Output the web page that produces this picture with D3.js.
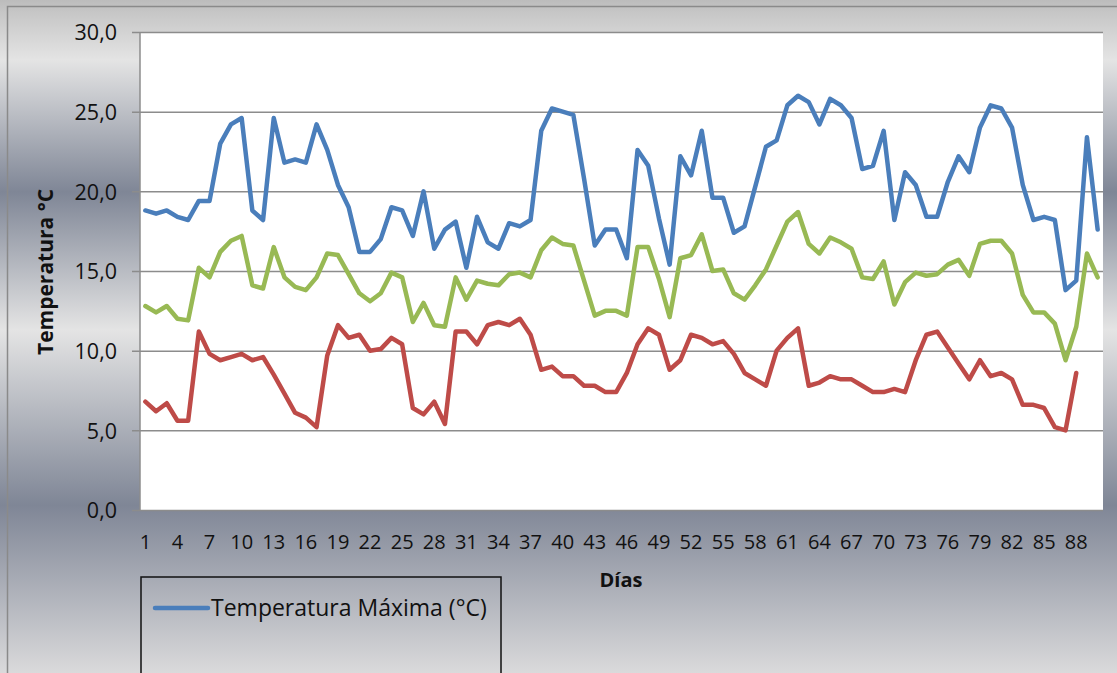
<!DOCTYPE html>
<html>
<head>
<meta charset="utf-8">
<script src="https://cdn.jsdelivr.net/npm/d3@7"></script>
<style>
  html, body { margin: 0; padding: 0; background: #c4c4c4; }
  svg { display: block; }
  text { font-family: "Open Sans", Lato, sans-serif; fill: #111; }
</style>
</head>
<body>
<svg id="chart" width="1117" height="673"></svg>
<script>
// Daily temperatures (°C), one value per day
const days = d3.range(1, 91);
const tempMax = [18.8, 18.6, 18.8, 18.4, 18.2, 19.4, 19.4, 23.0, 24.2, 24.6,
  18.8, 18.2, 24.6, 21.8, 22.0, 21.8, 24.2, 22.6, 20.4, 19.0,
  16.2, 16.2, 17.0, 19.0, 18.8, 17.2, 20.0, 16.4, 17.6, 18.1,
  15.2, 18.4, 16.8, 16.4, 18.0, 17.8, 18.2, 23.8, 25.2, 25.0,
  24.8, 20.8, 16.6, 17.6, 17.6, 15.8, 22.6, 21.6, 18.3, 15.4,
  22.2, 21.0, 23.8, 19.6, 19.6, 17.4, 17.8, 20.3, 22.8, 23.2,
  25.4, 26.0, 25.6, 24.2, 25.8, 25.4, 24.6, 21.4, 21.6, 23.8,
  18.2, 21.2, 20.4, 18.4, 18.4, 20.6, 22.2, 21.2, 24.0, 25.4,
  25.2, 24.0, 20.4, 18.2, 18.4, 18.2, 13.8, 14.4, 23.4, 17.6];
const tempMed = [12.8, 12.4, 12.8, 12.0, 11.9, 15.2, 14.6, 16.2, 16.9, 17.2,
  14.1, 13.9, 16.5, 14.6, 14.0, 13.8, 14.6, 16.1, 16.0, 14.8,
  13.6, 13.1, 13.6, 14.9, 14.6, 11.8, 13.0, 11.6, 11.5, 14.6,
  13.2, 14.4, 14.2, 14.1, 14.8, 14.9, 14.6, 16.3, 17.1, 16.7,
  16.6, 14.4, 12.2, 12.5, 12.5, 12.2, 16.5, 16.5, 14.5, 12.1,
  15.8, 16.0, 17.3, 15.0, 15.1, 13.6, 13.2, 14.1, 15.1, 16.6,
  18.1, 18.7, 16.7, 16.1, 17.1, 16.8, 16.4, 14.6, 14.5, 15.6,
  12.9, 14.3, 14.9, 14.7, 14.8, 15.4, 15.7, 14.7, 16.7, 16.9,
  16.9, 16.1, 13.5, 12.4, 12.4, 11.7, 9.4, 11.5, 16.1, 14.6];
const tempMin = [6.8, 6.2, 6.7, 5.6, 5.6, 11.2, 9.8, 9.4, 9.6, 9.8,
  9.4, 9.6, 8.5, 7.3, 6.1, 5.8, 5.2, 9.7, 11.6, 10.8,
  11.0, 10.0, 10.1, 10.8, 10.4, 6.4, 6.0, 6.8, 5.4, 11.2,
  11.2, 10.4, 11.6, 11.8, 11.6, 12.0, 11.0, 8.8, 9.0, 8.4,
  8.4, 7.8, 7.8, 7.4, 7.4, 8.6, 10.4, 11.4, 11.0, 8.8,
  9.4, 11.0, 10.8, 10.4, 10.6, 9.8, 8.6, 8.2, 7.8, 10.0,
  10.8, 11.4, 7.8, 8.0, 8.4, 8.2, 8.2, 7.8, 7.4, 7.4,
  7.6, 7.4, 9.4, 11.0, 11.2, 10.2, 9.2, 8.2, 9.4, 8.4,
  8.6, 8.2, 6.6, 6.6, 6.4, 5.2, 5.0, 8.6];

const seriesNames = ["Temperatura Máxima (°C)", "Temperatura Media (°C)", "Temperatura Mínima (°C)"];
const seriesColors = ["#4a7ebb", "#98b954", "#be4b48"];
const seriesValues = [tempMax, tempMed, tempMin];
const yTicks = [0, 5, 10, 15, 20, 25, 30];
const xTickLabels = days.filter(d => (d - 1) % 3 === 0);

const svg = d3.select("#chart");
const W = 1117, H = 673;
const plot = { left: 140, right: 1103, top: 32, bottom: 510 };

// Background: banded silver gradient
const defs = svg.append("defs");
const grad = defs.append("linearGradient")
  .attr("id", "bg").attr("gradientUnits", "userSpaceOnUse")
  .attr("x1", 0).attr("y1", 0).attr("x2", 0).attr("y2", H);
[[0, "#bcbcbc"], [12, "#c6c6c6"], [60, "#e4e4e4"], [192, "#7f8696"],
 [330, "#e4e4e4"], [505, "#7f8696"], [673, "#dadadb"]].forEach(([y, c]) => {
  grad.append("stop").attr("offset", y / H).attr("stop-color", c);
});
svg.append("rect").attr("width", W).attr("height", H).attr("fill", "url(#bg)");

// Chart frame (left and top edges visible)
svg.append("path")
  .attr("d", `M7.5,${H} V6.5 H${W}`)
  .attr("fill", "none").attr("stroke", "#8a8a8a").attr("stroke-width", 1.5);

// Scales
const x = d3.scalePoint().domain(days).range([plot.left, plot.right]).padding(0.5);
const y = d3.scaleLinear().domain([0, 30]).range([plot.bottom, plot.top]);

// Plot area
svg.append("rect")
  .attr("x", plot.left).attr("y", plot.top)
  .attr("width", plot.right - plot.left).attr("height", plot.bottom - plot.top)
  .attr("fill", "#ffffff");

// Horizontal gridlines with tick marks on the value axis
const yAxis = d3.axisLeft(y).tickValues(yTicks).tickSize(-(plot.right - plot.left))
  .tickFormat(d => d3.format(".1f")(d).replace(".", ","));
const gy = svg.append("g").attr("transform", `translate(${plot.left},0)`).call(yAxis);
gy.select(".domain").remove();
gy.selectAll(".tick line").attr("stroke", "#8c8c8c").attr("stroke-width", 1.5)
  .attr("x1", -8);
gy.selectAll(".tick text")
  .attr("x", -23).attr("dy", "0.36em")
  .style("font-size", "21.5px").style("font-family", "'Open Sans', sans-serif").attr("fill", "#111");

// Value axis line
svg.append("line")
  .attr("x1", plot.left).attr("x2", plot.left)
  .attr("y1", plot.top).attr("y2", plot.bottom)
  .attr("stroke", "#8c8c8c").attr("stroke-width", 1.5);

// Category labels
svg.append("g").selectAll("text").data(xTickLabels).join("text")
  .attr("x", d => x(d)).attr("y", 549)
  .attr("text-anchor", "middle")
  .style("font-size", "20px")
  .text(d => d);

// Series lines
const line = d3.line().x((v, i) => x(days[i])).y(v => y(v));
svg.append("g").selectAll("path").data(seriesValues).join("path")
  .attr("d", v => line(v))
  .attr("fill", "none")
  .attr("stroke", (v, i) => seriesColors[i])
  .attr("stroke-width", 4.5)
  .attr("stroke-linejoin", "round")
  .attr("stroke-linecap", "round");

// Axis titles
svg.append("text")
  .attr("x", 621).attr("y", 587)
  .attr("text-anchor", "middle")
  .style("font-size", "20px").style("font-weight", "bold")
  .text("Días");

svg.append("text")
  .attr("transform", "translate(53,272) rotate(-90)")
  .attr("text-anchor", "middle")
  .style("font-size", "21px").style("font-weight", "bold")
  .text("Temperatura °C");

// Legend: box runs past the bottom edge, only the first entry fits
const legend = svg.append("g");
legend.append("rect")
  .attr("x", 141).attr("y", 577).attr("width", 360).attr("height", 130)
  .attr("fill", "none").attr("stroke", "#111").attr("stroke-width", 1.5);
const items = legend.selectAll("g.item").data(seriesNames.slice(0, 1)).join("g")
  .attr("class", "item")
  .attr("transform", (d, i) => `translate(0,${608 + i * 100})`);
items.append("line")
  .attr("x1", 155).attr("x2", 208)
  .attr("stroke", (d, i) => seriesColors[i])
  .attr("stroke-width", 4.5).attr("stroke-linecap", "round");
items.append("text")
  .attr("x", 211).attr("dy", "0.36em")
  .style("font-size", "23px")
  .text(d => d);
</script>
</body>
</html>
